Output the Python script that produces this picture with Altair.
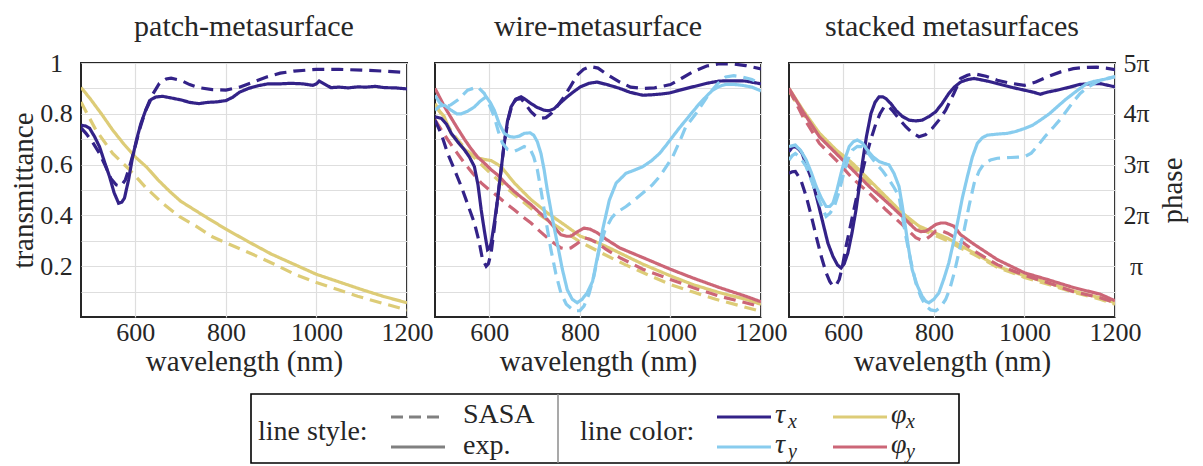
import altair as alt
import pandas as pd

# ---------------- data ----------------
# transmittance values (0..1), phase values in units of pi
p1_tx_sasa_wl = [480,491,505,521,535,546,558,568,578,587,598,609,622,635,653,668,679,700,720,740,770,800,830,860,890,920,950,1000,1050,1100,1150,1200]
p1_tx_sasa = [0.745,0.723,0.69,0.644,0.59,0.545,0.52,0.515,0.54,0.59,0.66,0.736,0.81,0.867,0.92,0.937,0.94,0.932,0.915,0.903,0.895,0.893,0.905,0.925,0.945,0.96,0.968,0.975,0.975,0.972,0.968,0.962]
p1_tx_exp_wl = [480,490,499,510,521,532,543,553,563,570,576,585,594,603,612,622,634,645,660,680,700,720,740,760,780,800,815,830,850,870,893,920,944,970,992,1000,1006,1015,1032,1050,1070,1091,1110,1130,1150,1175,1200]
p1_tx_exp = [0.755,0.752,0.743,0.71,0.67,0.61,0.553,0.49,0.448,0.452,0.468,0.54,0.63,0.70,0.76,0.81,0.855,0.866,0.869,0.862,0.855,0.845,0.84,0.845,0.847,0.852,0.865,0.885,0.9,0.91,0.918,0.918,0.92,0.918,0.912,0.918,0.929,0.92,0.903,0.905,0.902,0.906,0.905,0.908,0.903,0.902,0.898]
p1_px_sasa_wl = [480,513,550,587,624,660,697,734,770,800,850,907,950,1000,1050,1091,1150,1200]
p1_px_sasa = [4.23,3.68,3.22,2.90,2.54,2.24,1.98,1.79,1.58,1.46,1.27,1.04,0.85,0.68,0.53,0.41,0.26,0.14]
p1_px_exp_wl = [480,500,525,550,575,600,625,650,675,700,750,800,850,900,950,1000,1050,1100,1150,1200]
p1_px_exp = [4.52,4.3,4.0,3.68,3.4,3.15,2.95,2.7,2.48,2.28,2.0,1.73,1.48,1.24,1.04,0.84,0.69,0.54,0.40,0.28]

p2_tx_sasa_wl = [480,494,508,523,538,553,567,577,585,593,598,604,611,618,626,633,642,651,660,670,681,692,703,714,725,736,750,765,780,794,808,823,840,860,888,912,939,965,1000,1025,1049,1080,1108,1140,1166,1200]
p2_tx_sasa = [0.775,0.72,0.644,0.58,0.514,0.44,0.37,0.3,0.226,0.2,0.21,0.252,0.35,0.461,0.58,0.684,0.78,0.84,0.857,0.86,0.835,0.808,0.79,0.782,0.785,0.80,0.83,0.867,0.91,0.952,0.975,0.986,0.98,0.955,0.925,0.905,0.90,0.902,0.915,0.94,0.965,0.988,0.997,0.996,0.99,0.977]
p2_tx_exp_wl = [480,494,505,516,530,545,556,567,575,582,589,596,600,604,611,618,626,633,640,648,658,670,681,692,706,721,732,743,758,772,787,801,820,838,860,888,910,939,960,980,998,1020,1049,1080,1108,1140,1166,1200]
p2_tx_exp = [0.788,0.782,0.76,0.723,0.69,0.658,0.63,0.592,0.52,0.422,0.34,0.265,0.27,0.29,0.37,0.461,0.58,0.684,0.77,0.827,0.857,0.867,0.855,0.84,0.825,0.814,0.812,0.82,0.845,0.867,0.888,0.906,0.92,0.925,0.915,0.90,0.885,0.873,0.875,0.878,0.882,0.893,0.906,0.92,0.929,0.93,0.929,0.918]
p2_ty_sasa_wl = [480,490,501,515,530,552,574,589,600,611,620,629,640,655,665,677,690,698,706,714,725,736,747,758,770,787,800,809,820,831,842,855,870,880,902,920,939,960,976,990,1005,1020,1034,1056,1086,1105,1122,1140,1159,1180,1200]
p2_ty_sasa = [0.873,0.845,0.827,0.835,0.854,0.893,0.906,0.88,0.835,0.788,0.73,0.684,0.66,0.652,0.66,0.671,0.662,0.631,0.58,0.50,0.38,0.265,0.17,0.095,0.05,0.024,0.025,0.043,0.09,0.161,0.26,0.34,0.39,0.41,0.435,0.46,0.488,0.52,0.553,0.59,0.631,0.69,0.749,0.80,0.88,0.92,0.945,0.95,0.945,0.935,0.917]
p2_ty_exp_wl = [480,490,501,515,528,538,552,567,580,593,602,611,622,633,645,655,666,677,690,698,706,714,721,728,739,750,761,772,783,794,805,816,828,838,851,865,880,902,920,939,958,976,990,1005,1020,1034,1050,1064,1080,1093,1108,1122,1140,1159,1180,1200]
p2_ty_exp = [0.814,0.83,0.834,0.815,0.80,0.80,0.81,0.827,0.85,0.867,0.845,0.814,0.76,0.723,0.71,0.708,0.712,0.723,0.725,0.716,0.69,0.644,0.58,0.50,0.39,0.291,0.19,0.108,0.07,0.056,0.07,0.095,0.14,0.23,0.35,0.46,0.527,0.566,0.578,0.592,0.615,0.644,0.675,0.71,0.745,0.775,0.81,0.84,0.87,0.893,0.908,0.916,0.916,0.912,0.905,0.89]
p2_px_sasa_wl = [480,520,550,600,650,700,750,800,850,900,950,1000,1050,1100,1150,1200]
p2_px_sasa = [4.2,3.6,3.28,2.85,2.45,2.08,1.78,1.48,1.25,1.03,0.83,0.64,0.49,0.35,0.23,0.11]
p2_px_exp_wl = [480,500,516,545,574,590,604,626,655,692,728,765,801,830,860,888,939,1000,1049,1108,1166,1200]
p2_px_exp = [4.15,3.95,3.6,3.3,3.13,3.1,3.08,2.96,2.64,2.31,2.05,1.82,1.59,1.5,1.38,1.26,1.04,0.81,0.64,0.48,0.35,0.25]
p2_py_sasa_wl = [480,508,527,545,563,582,600,618,636,655,673,692,710,728,743,758,770,780,795,809,822,838,858,888,939,1000,1049,1108,1166,1200]
p2_py_sasa = [3.88,3.49,3.25,3.03,2.83,2.64,2.5,2.38,2.24,2.11,1.98,1.85,1.7,1.56,1.45,1.36,1.34,1.36,1.45,1.56,1.53,1.46,1.33,1.17,0.94,0.74,0.58,0.41,0.28,0.2]
p2_py_exp_wl = [480,501,515,530,545,559,574,589,604,618,636,655,673,692,710,728,743,758,770,780,795,809,822,838,858,888,939,1000,1049,1108,1166,1200]
p2_py_exp = [4.5,4.14,3.93,3.71,3.5,3.32,3.15,3.03,2.9,2.8,2.63,2.47,2.34,2.21,2.06,1.92,1.77,1.62,1.59,1.59,1.68,1.75,1.73,1.66,1.53,1.36,1.17,0.94,0.77,0.58,0.41,0.3]

p3_tx_sasa_wl = [480,487,494,506,518,529,540,551,562,570,577,584,591,598,606,617,628,639,650,661,672,681,690,699,708,723,738,752,767,782,796,811,826,844,859,874,889,915,940,970,1000,1025,1050,1080,1108,1135,1160,1180,1200]
p3_tx_sasa = [0.566,0.572,0.573,0.54,0.475,0.40,0.318,0.24,0.174,0.14,0.122,0.125,0.148,0.2,0.278,0.37,0.461,0.55,0.631,0.70,0.762,0.80,0.827,0.83,0.814,0.78,0.749,0.725,0.71,0.718,0.742,0.775,0.814,0.88,0.939,0.952,0.958,0.948,0.932,0.92,0.912,0.925,0.945,0.965,0.978,0.983,0.984,0.98,0.974]
p3_tx_exp_wl = [480,487,494,502,509,520,533,544,555,566,577,587,595,602,610,619,628,635,642,651,661,670,679,687,694,705,716,730,745,760,774,790,804,818,833,845,859,875,889,915,940,970,1000,1020,1035,1050,1072,1100,1123,1145,1167,1185,1200]
p3_tx_exp = [0.651,0.668,0.671,0.66,0.644,0.59,0.527,0.45,0.37,0.29,0.239,0.205,0.193,0.21,0.252,0.33,0.422,0.51,0.605,0.71,0.801,0.845,0.867,0.867,0.86,0.84,0.814,0.79,0.775,0.772,0.775,0.79,0.808,0.84,0.88,0.905,0.925,0.935,0.939,0.93,0.919,0.905,0.893,0.885,0.877,0.885,0.893,0.905,0.916,0.918,0.919,0.912,0.906]
p3_ty_sasa_wl = [480,487,494,506,518,529,540,551,562,571,580,590,599,610,620,631,642,657,672,687,701,712,723,730,738,749,760,771,782,793,804,815,826,835,845,856,867,878,889,900,911,925,940,970,1000,1015,1028,1045,1065,1080,1094,1108,1123,1140,1160,1180,1200]
p3_ty_sasa = [0.618,0.635,0.644,0.625,0.592,0.54,0.488,0.44,0.396,0.41,0.435,0.49,0.553,0.62,0.657,0.672,0.671,0.64,0.605,0.575,0.54,0.51,0.475,0.4,0.318,0.22,0.135,0.08,0.043,0.028,0.024,0.04,0.069,0.11,0.174,0.26,0.344,0.44,0.527,0.575,0.605,0.618,0.625,0.628,0.631,0.645,0.671,0.71,0.749,0.78,0.814,0.848,0.88,0.905,0.925,0.938,0.947]
p3_ty_exp_wl = [480,494,506,518,529,540,551,562,570,577,586,595,604,613,622,631,642,653,666,679,690,701,712,723,730,738,745,752,763,774,782,789,800,811,822,833,844,852,863,874,885,896,907,918,940,962,980,1000,1018,1035,1055,1072,1090,1108,1123,1138,1152,1167,1182,1200]
p3_ty_exp = [0.671,0.677,0.655,0.618,0.57,0.514,0.47,0.435,0.435,0.448,0.5,0.566,0.625,0.671,0.69,0.697,0.685,0.657,0.63,0.612,0.605,0.599,0.565,0.514,0.44,0.344,0.26,0.187,0.125,0.082,0.062,0.056,0.07,0.095,0.15,0.213,0.3,0.37,0.47,0.553,0.63,0.684,0.706,0.716,0.72,0.723,0.73,0.742,0.755,0.775,0.80,0.827,0.855,0.88,0.9,0.919,0.927,0.932,0.938,0.945]
p3_px_wl = [480,511,547,584,620,657,694,730,767,804,830,860,889,940,1000,1050,1108,1167,1200]
p3_px_sasa = [4.45,4.0,3.55,3.23,2.98,2.65,2.33,2.0,1.75,1.6,1.5,1.35,1.23,0.98,0.78,0.65,0.49,0.35,0.25]
p3_px_exp = [4.5,4.07,3.62,3.29,3.03,2.7,2.37,2.05,1.79,1.65,1.55,1.4,1.26,1.0,0.81,0.68,0.51,0.38,0.28]
p3_py_sasa_wl = [480,511,547,584,620,657,694,730,760,771,782,793,804,815,830,859,889,940,1000,1050,1108,1167,1200]
p3_py_sasa = [4.48,3.94,3.42,3.09,2.73,2.44,2.11,1.82,1.56,1.52,1.53,1.6,1.69,1.7,1.65,1.5,1.3,1.03,0.82,0.68,0.5,0.38,0.28]
p3_py_exp_wl = [480,511,547,584,620,657,694,730,760,771,782,793,804,815,826,844,859,889,940,1000,1050,1108,1167,1200]
p3_py_exp = [4.5,4.04,3.55,3.22,2.9,2.57,2.28,1.98,1.72,1.68,1.69,1.75,1.82,1.85,1.85,1.79,1.62,1.43,1.13,0.87,0.74,0.58,0.45,0.32]

panel_titles = ["patch-metasurface", "wire-metasurface", "stacked metasurfaces"]
quantities = ["τx", "τy", "φx", "φy"]
colors = ["#332288", "#88CCEE", "#DDCC77", "#CC6677"]
sources = ["SASA", "exp."]
x_ticks = [600, 800, 1000, 1200]
tau_ticks = [0.1, 0.2, 0.3, 0.4, 0.5, 0.6, 0.7, 0.8, 0.9, 1.0]
phase_ticks = [1, 2, 3, 4, 5]

series = [
    (1, "τx", "SASA", p1_tx_sasa_wl, p1_tx_sasa), (1, "τx", "exp.", p1_tx_exp_wl, p1_tx_exp),
    (1, "φx", "SASA", p1_px_sasa_wl, p1_px_sasa), (1, "φx", "exp.", p1_px_exp_wl, p1_px_exp),
    (2, "τx", "SASA", p2_tx_sasa_wl, p2_tx_sasa), (2, "τx", "exp.", p2_tx_exp_wl, p2_tx_exp),
    (2, "τy", "SASA", p2_ty_sasa_wl, p2_ty_sasa), (2, "τy", "exp.", p2_ty_exp_wl, p2_ty_exp),
    (2, "φx", "SASA", p2_px_sasa_wl, p2_px_sasa), (2, "φx", "exp.", p2_px_exp_wl, p2_px_exp),
    (2, "φy", "SASA", p2_py_sasa_wl, p2_py_sasa), (2, "φy", "exp.", p2_py_exp_wl, p2_py_exp),
    (3, "τx", "SASA", p3_tx_sasa_wl, p3_tx_sasa), (3, "τx", "exp.", p3_tx_exp_wl, p3_tx_exp),
    (3, "τy", "SASA", p3_ty_sasa_wl, p3_ty_sasa), (3, "τy", "exp.", p3_ty_exp_wl, p3_ty_exp),
    (3, "φx", "SASA", p3_px_wl, p3_px_sasa), (3, "φx", "exp.", p3_px_wl, p3_px_exp),
    (3, "φy", "SASA", p3_py_sasa_wl, p3_py_sasa), (3, "φy", "exp.", p3_py_exp_wl, p3_py_exp),
]
rows = []
for panel, q, src, wls, vals in series:
    for w, v in zip(wls, vals):
        rows.append({"panel": panel, "q": q, "kind": "tau" if q.startswith("τ") else "phase",
                     "source": src, "series": f"{q}-{src}", "wl": w, "value": v})
df = pd.DataFrame(rows)

FONT = "Liberation Serif"
TXT = "#262626"
W, H = 326, 254

color_enc = alt.Color("q:N", scale=alt.Scale(domain=quantities, range=colors), legend=None)
dash_enc = alt.StrokeDash("source:N", scale=alt.Scale(domain=sources, range=[[12, 7], [1, 0]]), legend=None)


def x_enc():
    return alt.X("wl:Q", scale=alt.Scale(domain=[480, 1200], nice=False, zero=False),
                 axis=alt.Axis(values=x_ticks, format="d", title="wavelength (nm)", labelFlush=False,
                               labelOverlap=False, ticks=False, domain=False, grid=True,
                               labelPadding=2, titlePadding=2))


def legend_layers(ox, oy):
    one = alt.Data(values=[{"k": 1}])
    out = []
    out.append(alt.Chart(one).mark_rect(filled=False, stroke="#000000", strokeWidth=1.6).encode(
        x=alt.value(250 - ox), x2=alt.value(958 - ox), y=alt.value(393 - oy), y2=alt.value(462 - oy)))
    out.append(alt.Chart(one).mark_rule(stroke="#8c8c8c", strokeWidth=1.5).encode(
        x=alt.value(557 - ox), y=alt.value(393 - oy), y2=alt.value(462 - oy)))

    def txt(t, x, y, size=28, italic=False):
        return alt.Chart(one).mark_text(align="left", baseline="middle", font=FONT, fontSize=size,
                                        fontStyle="italic" if italic else "normal", color=TXT).encode(
            x=alt.value(x - ox), y=alt.value(y - oy), text=alt.value(t))

    def sample(x1, x2, y, color, dashed):
        kw = dict(stroke=color, strokeWidth=3.2)
        if dashed:
            kw["strokeDash"] = [12, 6]
        return alt.Chart(one).mark_rule(**kw).encode(x=alt.value(x1 - ox), x2=alt.value(x2 - ox), y=alt.value(y - oy))

    out.append(txt("line style:", 257, 431))
    out.append(sample(390, 444, 416, "#808080", True))
    out.append(sample(390, 444, 446, "#808080", False))
    out.append(txt("SASA", 462, 414))
    out.append(txt("exp.", 462, 445))
    out.append(txt("line color:", 579, 431))
    entries = [("τ", "x", 716, 416, colors[0], 13), ("τ", "y", 716, 446, colors[1], 13),
               ("φ", "x", 832, 416, colors[2], 15), ("φ", "y", 832, 446, colors[3], 15)]
    for g, sub, x0, y0, c, gw in entries:
        out.append(sample(x0, x0 + 54, y0, c, False))
        out.append(txt(g, x0 + 58, y0 - 2, size=28, italic=True))
        out.append(txt(sub, x0 + 58 + gw, y0 + 5, size=20, italic=True))
    return out


def make_panel(pid):
    base = alt.Chart(df).transform_filter(alt.datum.panel == pid)
    if pid == 1:
        tau_axis = alt.Axis(values=tau_ticks, orient="left", title="transmittance", ticks=False,
                            domain=False, grid=True, labelPadding=25, labelAlign="center", titlePadding=1,
                            labelExpr="datum.value == 1 ? '1' : (round(datum.value*10) % 2 == 0 ? format(datum.value, '.1f') : '')")
    else:
        tau_axis = alt.Axis(values=tau_ticks, orient="left", title=None, ticks=False, labels=False,
                            domain=False, grid=True)
    if pid == 3:
        phase_axis = alt.Axis(values=phase_ticks, orient="right", title="phase", ticks=False,
                              domain=False, grid=False, labelPadding=21, labelAlign="center",
                              titlePadding=9, titleAngle=270, titleBaseline="top",
                              labelExpr="datum.value == 1 ? 'π' : datum.value + 'π'")
        phase_y = alt.Y("value:Q", scale=alt.Scale(domain=[0, 5], nice=False, zero=False), axis=phase_axis)
    else:
        phase_y = alt.Y("value:Q", scale=alt.Scale(domain=[0, 5], nice=False, zero=False), axis=None)

    phase = base.transform_filter(alt.datum.kind == "phase").mark_line(strokeWidth=3.2, clip=True).encode(
        x=x_enc(), y=phase_y, color=color_enc, strokeDash=dash_enc, detail="series:N")
    tau = base.transform_filter(alt.datum.kind == "tau").mark_line(strokeWidth=3.2, clip=True).encode(
        x=x_enc(),
        y=alt.Y("value:Q", scale=alt.Scale(domain=[0, 1], nice=False, zero=False), axis=tau_axis),
        color=color_enc, strokeDash=dash_enc, detail="series:N")
    layers = [phase, tau]
    if pid == 2:
        layers += legend_layers(434, 62)
    # panels 1 and 3 have a top axis label reaching 13 px above the frame; panel 2 has none
    title_offset = 21 if pid == 2 else 8
    return alt.layer(*layers).resolve_scale(y="independent").properties(
        width=W, height=H,
        title=alt.TitleParams(panel_titles[pid - 1], fontSize=30, font=FONT, fontWeight="normal",
                              color=TXT, offset=title_offset))


chart = alt.hconcat(make_panel(1), make_panel(2), make_panel(3), spacing=28, bounds="flush",
                    padding={"left": 0, "top": 3, "right": 5, "bottom": 0}).configure(
    font=FONT
).configure_view(stroke="#262626", strokeWidth=2).configure_axis(
    gridColor="#dedede", gridWidth=1.2, gridOpacity=1, labelFont=FONT, titleFont=FONT,
    labelFontSize=26, titleFontSize=29, labelColor=TXT, titleColor=TXT, titleFontWeight="normal")

chart.save("out.html", embed_options={"renderer": "svg", "actions": False})
